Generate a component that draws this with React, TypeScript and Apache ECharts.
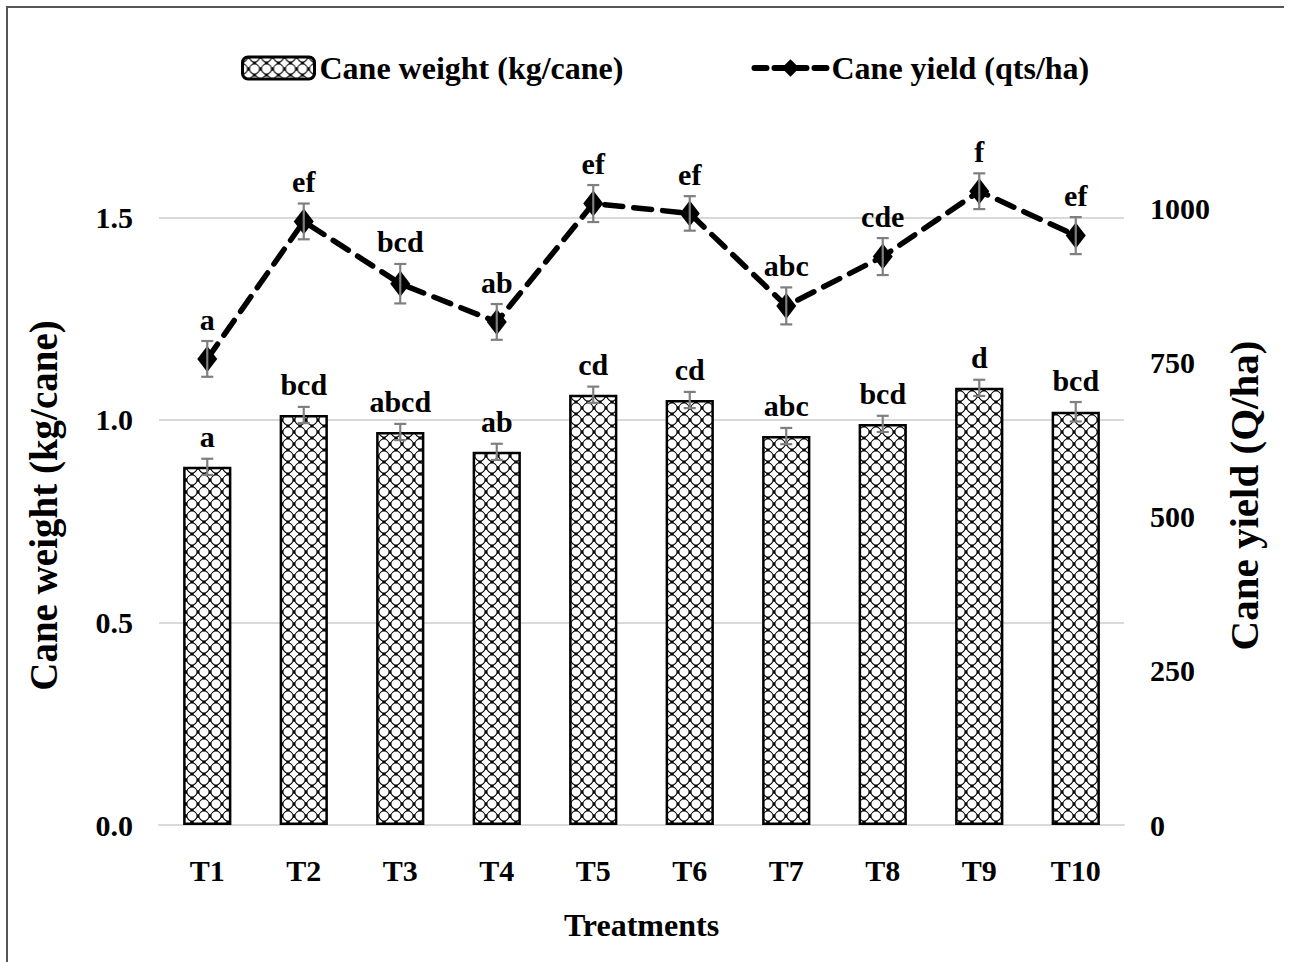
import React, { useEffect, useRef } from "react";
import * as echarts from "echarts";

const categories = ["T1", "T2", "T3", "T4", "T5", "T6", "T7", "T8", "T9", "T10"];
const caneWeight = [0.884, 1.012, 0.97, 0.921, 1.062, 1.049, 0.96, 0.99, 1.079, 1.02];
const caneWeightErr = [0.02, 0.02, 0.02, 0.02, 0.02, 0.02, 0.02, 0.02, 0.02, 0.024];
const caneWeightLetters = ["a", "bcd", "abcd", "ab", "cd", "cd", "abc", "bcd", "d", "bcd"];
const caneYield = [756, 979, 878, 816, 1008, 992, 842, 922, 1028, 956];
const caneYieldErr = [29, 29, 32, 29, 30, 28, 30, 30, 29, 30];
const caneYieldLetters = ["a", "ef", "bcd", "ab", "ef", "ef", "abc", "cde", "f", "ef"];

const FONT = '"Liberation Serif", "Times New Roman", serif';

function makePattern(): HTMLCanvasElement {
  const c = document.createElement("canvas");
  const s = 12;
  c.width = s;
  c.height = s;
  const ctx = c.getContext("2d")!;
  ctx.fillStyle = "#fff";
  ctx.fillRect(0, 0, s, s);
  ctx.strokeStyle = "#000";
  ctx.lineWidth = 1.1;
  ctx.beginPath();
  ctx.moveTo(0, s / 2);
  ctx.quadraticCurveTo(s / 4 + 1, s / 4 + 1, s / 2, 0);
  ctx.quadraticCurveTo(3 * s / 4 - 1, s / 4 + 1, s, s / 2);
  ctx.quadraticCurveTo(3 * s / 4 - 1, 3 * s / 4 - 1, s / 2, s);
  ctx.quadraticCurveTo(s / 4 + 1, 3 * s / 4 - 1, 0, s / 2);
  ctx.stroke();
  ctx.fillStyle = "#000";
  const d = 1.5;
  ctx.fillRect(0, s / 2 - d, d, 2 * d);
  ctx.fillRect(s - d, s / 2 - d, d, 2 * d);
  ctx.fillRect(s / 2 - d, 0, 2 * d, d);
  ctx.fillRect(s / 2 - d, s - d, 2 * d, d);
  return c;
}

function errorRender(values: number[], errs: number[], letters: string[]) {
  return (params: any, api: any) => {
    const i = params.dataIndex;
    const v = values[i];
    const e = errs[i];
    const top = api.coord([i, v + e]);
    const bot = api.coord([i, v - e]);
    const x = top[0];
    const hw = 6;
    const style = { stroke: "#7f7f7f", lineWidth: 2.2 };
    return {
      type: "group",
      children: [
        { type: "line", shape: { x1: x, y1: top[1], x2: x, y2: bot[1] }, style },
        { type: "line", shape: { x1: x - hw, y1: top[1], x2: x + hw, y2: top[1] }, style },
        { type: "line", shape: { x1: x - hw, y1: bot[1], x2: x + hw, y2: bot[1] }, style },
        {
          type: "text",
          x,
          y: top[1] - 7,
          style: {
            text: letters[i],
            fill: "#000",
            font: `bold 30px ${FONT}`,
            align: "center",
            verticalAlign: "bottom",
            textAlign: "center",
            textVerticalAlign: "bottom",
          },
        },
      ],
    };
  };
}

export default function App() {
  const ref = useRef<HTMLDivElement>(null);
  useEffect(() => {
    if (!ref.current) return;
    const chart = echarts.init(ref.current, null, { renderer: "svg" });
    const pattern = makePattern();
    const labelStyle = { fontFamily: FONT, fontWeight: "bold" as const, fontSize: 30, color: "#000" };
    chart.setOption({
      animation: false,
      backgroundColor: "#fff",
      textStyle: { fontFamily: FONT },
      legend: {
        top: 47,
        left: 236,
        itemGap: 128,
        itemWidth: 72,
        itemHeight: 22,
        textStyle: { fontFamily: FONT, fontWeight: "bold", fontSize: 32, color: "#000" },
        data: [
          { name: "Cane weight (kg/cane)", itemStyle: { borderWidth: 3, borderColor: "#000" } },
          {
            name: "Cane yield (qts/ha)",
            lineStyle: { width: 6, type: [12, 8], color: "#000", cap: "round" },
            itemStyle: { color: "#000" },
          },
        ],
      },
      grid: { left: 159, right: 165, top: 116, bottom: 137 },
      xAxis: {
        type: "category",
        data: categories,
        axisLine: { lineStyle: { color: "#d9d9d9", width: 2 } },
        axisTick: { show: false },
        axisLabel: { ...labelStyle, margin: 30 },
        name: "Treatments",
        nameLocation: "middle",
        nameGap: 84,
        nameTextStyle: { fontFamily: FONT, fontWeight: "bold", fontSize: 32, color: "#000" },
      },
      yAxis: [
        {
          type: "value",
          min: 0,
          max: 1.75,
          interval: 0.5,
          axisLine: { show: false },
          axisTick: { show: false },
          axisLabel: { ...labelStyle, margin: 26, showMaxLabel: false, formatter: (v: number) => v.toFixed(1) },
          splitLine: { show: true, showMaxLine: false, lineStyle: { color: "#d9d9d9", width: 2 } },
          name: "Cane weight (kg/cane)",
          nameLocation: "middle",
          nameGap: 96,
          nameTextStyle: { fontFamily: FONT, fontWeight: "bold", fontSize: 39, color: "#000", padding: [0, 70, 0, 0] },
        },
        {
          type: "value",
          min: 0,
          max: 1150,
          interval: 250,
          axisLine: { show: false },
          axisTick: { show: false },
          axisLabel: { ...labelStyle, margin: 26, showMaxLabel: false, formatter: (v: number) => String(v) },
          splitLine: { show: false },
          name: "Cane yield (Q/ha)",
          nameLocation: "middle",
          nameGap: 99,
          nameRotate: 90,
          nameTextStyle: { fontFamily: FONT, fontWeight: "bold", fontSize: 41, color: "#000", padding: [0, 50, 0, 0] },
        },
      ],
      series: [
        {
          name: "Cane weight (kg/cane)",
          type: "bar",
          data: caneWeight,
          barWidth: "50%",
          yAxisIndex: 0,
          z: 2,
          itemStyle: {
            color: { image: pattern, repeat: "repeat", imageWidth: 12, imageHeight: 12 },
            borderColor: "#000",
            borderWidth: 2.5,
          },
        },
        {
          name: "Cane yield (qts/ha)",
          type: "line",
          data: caneYield,
          yAxisIndex: 1,
          z: 3,
          symbol: "diamond",
          symbolSize: [20, 26],
          itemStyle: { color: "#000" },
          lineStyle: { color: "#000", width: 5.5, type: [18, 11], cap: "round" },
        },
        {
          name: "weightErr",
          type: "custom",
          yAxisIndex: 0,
          z: 5,
          data: caneWeight.map((v, i) => [i, v]),
          encode: { x: 0, y: 1 },
          renderItem: errorRender(caneWeight, caneWeightErr, caneWeightLetters),
        },
        {
          name: "yieldErr",
          type: "custom",
          yAxisIndex: 1,
          z: 5,
          data: caneYield.map((v, i) => [i, v]),
          encode: { x: 0, y: 1 },
          renderItem: errorRender(caneYield, caneYieldErr, caneYieldLetters),
        },
      ],
      graphic: [
        { type: "line", shape: { x1: 7, y1: 7, x2: 1284, y2: 7 }, style: { stroke: "#555", lineWidth: 2 } },
        { type: "line", shape: { x1: 7, y1: 6, x2: 7, y2: 962 }, style: { stroke: "#555", lineWidth: 2 } },
      ],
    });
    return () => chart.dispose();
  }, []);
  return (
    <div
      ref={ref}
      style={{ position: "absolute", left: 0, top: 0, width: 1289, height: 962 }}
    />
  );
}
